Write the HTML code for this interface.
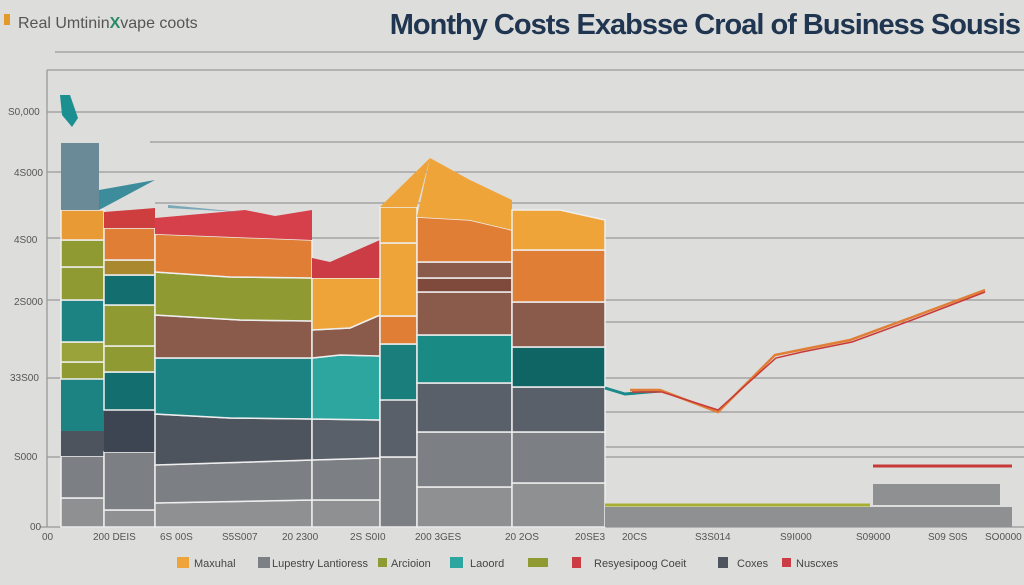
<!DOCTYPE html>
<html><head><meta charset="utf-8"><style>
html,body{margin:0;padding:0;background:#dddddb;}
svg{display:block;font-family:"Liberation Sans",sans-serif;}
</style></head><body>
<svg width="1024" height="585" viewBox="0 0 1024 585" xmlns="http://www.w3.org/2000/svg">
<rect width="1024" height="585" fill="#dddddb"/>
<text x="18" y="28" font-size="16" fill="#555">Real Umtinin<tspan fill="#2a8a6a" font-weight="bold">X</tspan>vape coots</text>
<rect x="4" y="14" width="6" height="11" fill="#e39a2a"/>
<text x="1020" y="34" font-size="29" font-weight="bold" fill="#1f3550" text-anchor="end" letter-spacing="-1">Monthy Costs Exabsse Croal of Business Sousis</text>
<g stroke="#999" stroke-width="1.3">
<line x1="55" y1="52" x2="1024" y2="52"/><line x1="47" y1="70" x2="1024" y2="70"/>
<line x1="47" y1="112" x2="1024" y2="112"/><line x1="150" y1="142" x2="1024" y2="142"/>
<line x1="47" y1="172" x2="1024" y2="172"/><line x1="155" y1="203" x2="1024" y2="203"/>
<line x1="47" y1="238" x2="1024" y2="238"/><line x1="47" y1="300" x2="1024" y2="300"/>
<line x1="605" y1="322" x2="1024" y2="322"/><line x1="47" y1="378" x2="1024" y2="378"/>
<line x1="605" y1="412" x2="1024" y2="412"/><line x1="605" y1="447" x2="1024" y2="447"/>
<line x1="47" y1="457" x2="1024" y2="457"/>
<line x1="47" y1="70" x2="47" y2="527"/>
<line x1="40" y1="527" x2="1024" y2="527"/>
</g>
<g font-size="10" fill="#555">
<text x="8" y="115">S0,000</text><text x="14" y="176">4S000</text><text x="14" y="243">4S00</text>
<text x="14" y="305">2S000</text><text x="10" y="381">33S00</text><text x="14" y="460">S000</text><text x="30" y="530">00</text>
</g>
<g font-size="10" fill="#555">
<text x="42" y="540">00</text><text x="93" y="540">200 DEIS</text><text x="160" y="540">6S 00S</text>
<text x="222" y="540">S5S007</text><text x="282" y="540">20 2300</text><text x="350" y="540">2S S0I0</text>
<text x="415" y="540">200 3GES</text><text x="505" y="540">20 2OS</text><text x="575" y="540">20SE3</text>
<text x="622" y="540">20CS</text><text x="695" y="540">S3S014</text><text x="780" y="540">S9I000</text>
<text x="856" y="540">S09000</text><text x="928" y="540">S09 S0S</text><text x="985" y="540">SO0000</text>
</g>
<!-- col A -->
<g stroke="#eee" stroke-width="1.5">
<rect x="61" y="498" width="43" height="29" fill="#8e9092"/>
<rect x="61" y="456" width="43" height="42" fill="#7c7f83"/>
<rect x="61" y="431" width="43" height="25" fill="#4d545e" stroke="none"/>
<rect x="61" y="379" width="43" height="52" fill="#1c8282" stroke="none"/>
<rect x="61" y="362" width="43" height="17" fill="#8f9a32"/>
<rect x="61" y="342" width="43" height="20" fill="#9aa23a"/>
<rect x="61" y="300" width="43" height="42" fill="#1c8282"/>
<rect x="61" y="267" width="43" height="33" fill="#8f9a32"/>
<rect x="61" y="240" width="43" height="27" fill="#8f9a32"/>
<rect x="61" y="210" width="43" height="30" fill="#e89a35"/>
<rect x="61" y="143" width="38" height="67" fill="#6b8a98" stroke="none"/>
<polygon points="99,190 155,180 99,210" fill="#3d8c9c" stroke="none"/>
<polygon points="60,95 70,95 78,118 72,127 62,115" fill="#1c9090" stroke="none"/>
<!-- col B -->
<rect x="104" y="510" width="51" height="17" fill="#8e9092"/>
<rect x="104" y="452" width="51" height="58" fill="#7c7f83"/>
<rect x="104" y="410" width="51" height="42" fill="#3e4552" stroke="none"/>
<rect x="104" y="372" width="51" height="38" fill="#136e70"/>
<rect x="104" y="346" width="51" height="26" fill="#8f9a32"/>
<rect x="104" y="305" width="51" height="41" fill="#8f9a32"/>
<rect x="104" y="275" width="51" height="30" fill="#136e70"/>
<rect x="104" y="260" width="51" height="15" fill="#a9882e"/>
<rect x="104" y="228" width="51" height="32" fill="#e07e35"/>
<polygon points="104,212 155,208 155,228 104,228" fill="#cf3e3e" stroke="none"/>
<!-- col C -->
<polygon points="155,503 312,500 312,527 155,527" fill="#8e9092"/>
<polygon points="155,465 312,460 312,500 155,503" fill="#7c7f83"/>
<polygon points="155,414 230,418 312,419 312,460 155,465" fill="#4d545e"/>
<polygon points="155,358 312,358 312,419 230,418 155,414" fill="#1c8282"/>
<polygon points="155,315 240,320 312,321 312,358 155,358" fill="#8a5a4a"/>
<polygon points="155,272 230,277 312,278 312,321 240,320 155,315" fill="#8f9a32"/>
<polygon points="155,234 312,240 312,278 230,277 155,272" fill="#e07e35"/>
<polygon points="155,218 245,210 275,216 312,210 312,240 155,234" fill="#d6404a" stroke="none"/>
<polygon points="168,205 240,212 168,208" fill="#7aa8b8" stroke="none"/>
<!-- col D -->
<rect x="312" y="500" width="68" height="27" fill="#8e9092"/>
<polygon points="312,460 380,458 380,500 312,500" fill="#7c7f83"/>
<polygon points="312,419 380,420 380,458 312,460" fill="#5a606a"/>
<polygon points="312,358 340,355 380,356 380,420 312,419" fill="#2ea6a0"/>
<polygon points="312,330 350,328 380,315 380,356 340,355 312,358" fill="#8a5a4a"/>
<polygon points="312,278 380,278 380,315 350,328 312,330" fill="#efa43a"/>
<polygon points="312,258 330,262 380,240 380,278 312,278" fill="#cc3c44" stroke="none"/>
<!-- col E -->
<rect x="380" y="457" width="37" height="70" fill="#7c7f83"/>
<polygon points="380,400 417,398 417,457 380,457" fill="#5a606a"/>
<rect x="380" y="344" width="37" height="56" fill="#1a7e7c"/>
<rect x="380" y="316" width="37" height="28" fill="#e07e35"/>
<rect x="380" y="243" width="37" height="73" fill="#efa43a"/>
<rect x="380" y="207" width="37" height="36" fill="#efa43a"/>
<polygon points="380,207 430,158 417,207" fill="#efa43a" stroke="none"/>
<!-- col F -->
<rect x="417" y="487" width="95" height="40" fill="#8e9092"/>
<polygon points="417,487 512,484 512,487" fill="#8e9092" stroke="none"/>
<rect x="417" y="432" width="95" height="55" fill="#7c7f83"/>
<rect x="417" y="383" width="95" height="49" fill="#5a606a"/>
<rect x="417" y="335" width="95" height="48" fill="#1a8a84"/>
<rect x="417" y="292" width="95" height="43" fill="#8a5a4a"/>
<rect x="417" y="278" width="95" height="14" fill="#7f4a3c"/>
<rect x="417" y="262" width="95" height="16" fill="#8a5a4a"/>
<polygon points="417,217 470,220 512,230 512,262 417,262" fill="#e07e35"/>
<polygon points="417,217 430,158 470,180 512,200 512,230 470,220" fill="#efa43a" stroke="none"/>
<!-- col G -->
<rect x="512" y="483" width="93" height="44" fill="#8e9092"/>
<rect x="512" y="432" width="93" height="51" fill="#7c7f83"/>
<rect x="512" y="387" width="93" height="45" fill="#5a606a"/>
<rect x="512" y="347" width="93" height="40" fill="#0f6464"/>
<rect x="512" y="302" width="93" height="45" fill="#8a5a4a"/>
<rect x="512" y="250" width="93" height="52" fill="#e07e35"/>
<polygon points="512,210 560,210 605,220 605,250 512,250" fill="#efa43a"/>
</g>
<!-- right side -->
<rect x="605" y="507" width="407" height="20" fill="#8e9092"/>
<rect x="873" y="484" width="127" height="21" fill="#8e9092"/>
<line x1="873" y1="466" x2="1012" y2="466" stroke="#c83a3a" stroke-width="3"/>
<line x1="605" y1="505" x2="870" y2="505" stroke="#a8ae30" stroke-width="3"/>
<polyline points="605,388 625,394 660,391" fill="none" stroke="#1a8a8a" stroke-width="3"/>
<polyline points="630,390 660,390 718,412 775,355 800,350 850,340 910,318 985,290" fill="none" stroke="#e07e35" stroke-width="2.5"/>
<polyline points="632,392 662,392 718,410 776,358 802,352 852,342 912,320 985,292" fill="none" stroke="#c83a3a" stroke-width="1.5"/>
<!-- legend -->
<g font-size="11" fill="#444">
<rect x="177" y="557" width="12" height="11" fill="#efa43a"/><text x="194" y="567">Maxuhal</text>
<rect x="258" y="557" width="12" height="11" fill="#7c7f83"/><text x="272" y="567">Lupestry Lantioress</text>
<rect x="378" y="558" width="9" height="9" fill="#8f9a32"/><text x="391" y="567">Arcioion</text>
<rect x="450" y="557" width="13" height="11" fill="#2ea6a0"/><text x="470" y="567">Laoord</text>
<rect x="528" y="558" width="20" height="9" fill="#8f9a32"/>
<rect x="572" y="557" width="9" height="11" fill="#cc3c44"/><text x="594" y="567">Resyesipoog Coeit</text>
<rect x="718" y="557" width="10" height="11" fill="#4d545e"/><text x="737" y="567">Coxes</text>
<rect x="782" y="558" width="9" height="9" fill="#cc3c44"/><text x="796" y="567">Nuscxes</text>
</g>
</svg>
</body></html>
